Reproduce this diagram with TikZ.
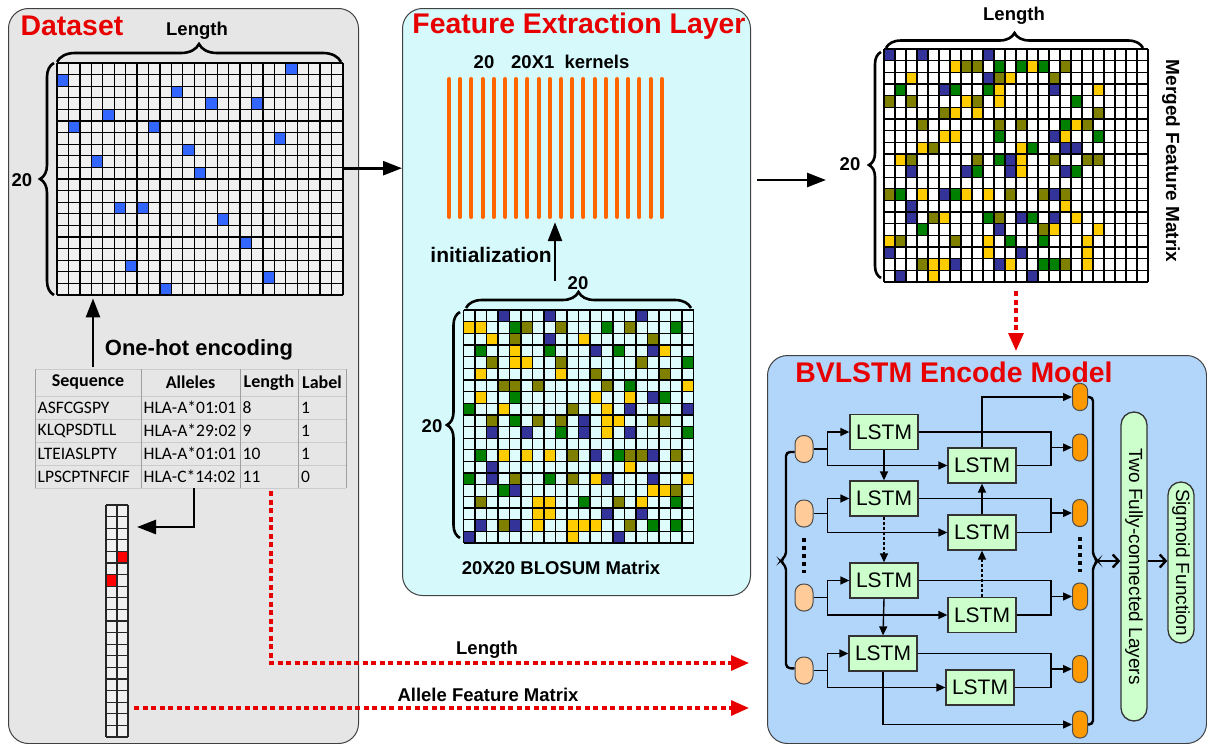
\documentclass[tikz,border=0pt]{standalone}
\usepackage{fontspec}
\setmainfont{Liberation Sans}
\newfontfamily\carl{Carlito}
\usetikzlibrary{arrows.meta,decorations.pathreplacing,calc}
\newcommand\fsz[1]{\fontsize{#1}{#1}\selectfont}
\definecolor{dsgray}{RGB}{230,230,230}
\definecolor{cellgray}{RGB}{240,240,240}
\definecolor{fecyan}{RGB}{214,250,252}
\definecolor{cellcyan}{RGB}{222,252,252}
\definecolor{bvblue}{RGB}{178,213,250}
\definecolor{dblue}{RGB}{51,102,255}
\definecolor{cY}{RGB}{255,204,0}
\definecolor{cO}{RGB}{128,128,0}
\definecolor{cG}{RGB}{0,128,0}
\definecolor{cB}{RGB}{51,51,153}
\definecolor{tred}{RGB}{232,0,0}
\definecolor{korange}{RGB}{255,102,0}
\definecolor{outor}{RGB}{255,153,0}
\definecolor{inor}{RGB}{255,204,153}
\definecolor{lgreen}{RGB}{204,255,204}
\newcommand\gridlines[6]{%
  \foreach \i in {0,...,#3}{\draw[gline] ({#1+\i*#5},#2) -- ({#1+\i*#5},{#2+#4*#6});}
  \foreach \j in {0,...,#4}{\draw[gline] ({#1},{#2+\j*#6}) -- ({#1+#3*#5},{#2+\j*#6});}
}
\newcommand\cellsrc[5]{%
  \foreach \r/\lst in {#5}{\foreach \c/\k in \lst{\fill[\k] ({#1+\c*#3},{#2+\r*#4}) rectangle ++(#3,#4);}}
}
\begin{document}
\begin{tikzpicture}[x=1pt,y=-1pt,
  gline/.style={line width=1.3pt, black},
  panel/.style={draw=black!75, line width=1pt, rounded corners=20pt, inner sep=0pt, anchor=north west},
  title/.style={text=tred, font=\bfseries\fsz{28.4}, inner sep=0pt},
  lbl/.style={font=\bfseries\fsz{18.5}, inner sep=0pt},
  bigarr/.style={line width=2.6pt, -{Triangle[length=19pt,width=14pt]}},
  reddash/.style={tred, line width=3.2pt, dash pattern=on 5pt off 3.5pt, -{Triangle[length=18pt,width=15pt]}},
  brc/.style={decorate, decoration={brace, amplitude=#1}, line width=2.6pt},
  brc/.default=16pt,
  tcell/.style={font=\carl\fsz{17.5}, anchor=west, inner sep=0pt},
  thead/.style={font=\carl\bfseries\fsz{18}, inner sep=0pt},
  kern/.style={korange, line width=4pt, line cap=round},
  lstm/.style={draw=black!80, fill=lgreen, line width=1.3pt, minimum width=68pt, minimum height=35pt, inner sep=0pt, font=\fsz{21}},
  inp/.style={draw=black!70, fill=inor, line width=1pt, minimum width=18pt, minimum height=27pt, rounded corners=8.5pt, inner sep=0pt},
  outp/.style={draw=black!70, fill=outor, line width=1pt, minimum width=15pt, minimum height=27pt, rounded corners=7pt, inner sep=0pt},
  pill/.style={draw=black!80, fill=lgreen, line width=1.3pt, minimum width=26pt, rounded corners=13pt, inner sep=0pt},
  larr/.style={line width=1.4pt, -{Triangle[length=9pt,width=8pt]}},
  lline/.style={line width=1.4pt},
  thickarr/.style={line width=2.4pt, -{Straight Barb[length=6pt,width=13pt]}},
  bbr/.style={line width=2.4pt, rounded corners=4pt},
]
\useasboundingbox (0,0) rectangle (1207,744);
\fill[white] (0,0) rectangle (1207,744);

% ---------------- panels
\node[panel, fill=dsgray, minimum width=350pt, minimum height=735pt] (dpanel) at (8,8) {};
\node[panel, fill=fecyan, minimum width=348pt, minimum height=587pt] (fpanel) at (402,8) {};
\node[panel, fill=bvblue, minimum width=439pt, minimum height=388pt] (bpanel) at (767,355) {};

\node[title] (dtitle) at (72,26) {Dataset};
\node[title] (ftitle) at (579,26) {Feature Extraction Layer};
\node[title] (btitle) at (954,372) {BVLSTM Encode Model};

% ---------------- dataset one-hot grid
\node[inner sep=0pt, minimum width=286pt, minimum height=232pt, anchor=north west] (dgrid) at (57,63) {};
\fill[cellgray] (57,63) rectangle (343,295);
\foreach \c/\r in {20/0,0/1,10/2,13/3,17/3,4/4,1/5,8/5,19/6,11/7,3/8,12/9,5/12,7/12,14/13,16/15,6/17,18/18,9/19}
  {\fill[dblue] ({57+\c*11.44},{63+\r*11.6}) rectangle ++(11.44,11.6);}
\gridlines{57}{63}{25}{20}{11.44}{11.6}
\draw[brc=18pt] (57,62) -- (341,62);
\node[lbl] (dlen) at (197,31) {Length};
\draw[brc=14pt] (54,295) -- (54,63);
\node[lbl] (d20) at (22,180) {20};

% ---------------- table
\foreach \yy in {369,396,419,442,465,488} {\draw[gray!40, line width=0.8pt] (35,\yy) -- (346,\yy);}
\foreach \xx in {35,141,240,298,346} {\draw[gray!75, line width=1pt] (\xx,369) -- (\xx,488);}
\node[thead] (h1) at (88,382.5) {Sequence};
\node[thead] (h2) at (190.5,382.5) {Alleles};
\node[thead] (h3) at (269,382.5) {Length};
\node[thead] (h4) at (322,382.5) {Label};
\foreach \s/\a/\l/\b [count=\k] in {ASFCGSPY/HLA-A*01:01/8/1, KLQPSDTLL/HLA-A*29:02/9/1, LTEIASLPTY/HLA-A*01:01/10/1, LPSCPTNFCIF/HLA-C*14:02/11/0} {
  \pgfmathsetmacro\yy{384.5+23*\k}
  \node[tcell] (ts\k) at (37.5,\yy) {\s};
  \node[tcell] (ta\k) at (143.5,\yy) {\a};
  \node[tcell] (tl\k) at (242.5,\yy) {\l};
  \node[tcell] (tb\k) at (301,\yy) {\b};
}
\coordinate (oa) at (93,367);
\draw[bigarr] (oa) -- ($(oa |- dgrid.south)+(0,3)$);
\node[lbl, font=\bfseries\fsz{22}] (onehot) at (199,350) {One-hot encoding};

% ---------------- allele column vector
\node[inner sep=0pt, minimum width=22pt, minimum height=232pt, anchor=north west] (colv) at (106,505) {};
\fill[cellgray] (106,505) rectangle (128,737);
\fill[red] (117,{505+4*11.6}) rectangle ++(11,11.6);
\fill[red] (106,{505+6*11.6}) rectangle ++(11,11.6);
\begin{scope}[gline/.style={line width=1.1pt, black!85}]
\gridlines{106}{505}{2}{20}{11}{11.6}
\end{scope}
\coordinate (ba) at (194,488);
\coordinate (bb) at (137,527);
\draw[bigarr] (ba) |- (bb);

% ---------------- red dashed connectors
\coordinate (lenS) at (271,491);
\coordinate (lenE) at (749,663);
\draw[reddash] (lenS) |- (lenE);
\node[lbl] (lenlab) at (487,650) {Length};
\coordinate (alS) at (134,708);
\coordinate (alE) at (749,708);
\draw[reddash] (alS) -- (alE);
\node[lbl] (allab) at (488,695) {Allele Feature Matrix};

% ---------------- feature extraction: kernels
\node[inner sep=0pt, minimum width=220pt, minimum height=140pt] (kern) at (555.5,148) {};
\foreach \i in {0,...,19} {\draw[kern] ({449+\i*11.2},79) -- ({449+\i*11.2},217);}
\node[lbl] (k20) at (484,62) {20};
\node[lbl, anchor=west] (ktxt) at (511,62) {20X1\hspace{5pt} kernels};
\coordinate (ia) at (555,281);
\draw[bigarr] (ia) -- ($(ia |- kern.south)+(0,4)$);
\node[lbl, font=\bfseries\fsz{21}, anchor=east] (init) at (552,255) {initialization};

% ---------------- BLOSUM grid
\node[inner sep=0pt, minimum width=230pt, minimum height=233pt, anchor=north west] (bgrid) at (463.5,310) {};
\fill[cellcyan] (463.5,310) rectangle (693.5,543);
\cellsrc{463.5}{310}{11.5}{11.65}{0/{3/cB,7/cB,15/cB},
1/{0/cY,1/cY,4/cG,5/cO,8/cO,12/cG,14/cO,18/cG},
2/{2/cY,4/cO,7/cB,10/cY,16/cO},
3/{1/cG,4/cY,7/cG,11/cB,13/cG,16/cB,17/cY},
4/{2/cO,4/cY,5/cY,8/cO,15/cO,19/cG},
5/{1/cY,8/cY,11/cO,17/cO},
6/{3/cO,4/cO,6/cO,12/cO,14/cG,19/cY},
7/{1/cY,4/cG,11/cY,14/cY,16/cB,17/cG},
8/{0/cG,3/cY,9/cO,12/cY,14/cB,19/cB},
9/{2/cO,4/cG,6/cO,8/cO,10/cB,12/cY,13/cY,16/cO,17/cO},
10/{2/cB,5/cB,8/cG,10/cB,12/cY,14/cB,19/cG},
12/{1/cG,3/cY,5/cY,7/cY,9/cO,11/cB,13/cG,14/cO,15/cO,16/cB,18/cO},
13/{2/cB,14/cY},
14/{0/cG,2/cB,4/cO,7/cG,9/cO,11/cY,12/cB,16/cB,19/cY},
15/{3/cG,4/cB,16/cY,17/cY,18/cO},
16/{1/cO,6/cY,7/cY,10/cG,13/cO,15/cY,18/cG},
17/{6/cY,7/cY,12/cB,15/cB},
18/{1/cB,3/cO,4/cB,6/cY,9/cY,10/cY,11/cY,14/cO,16/cG,18/cG},
19/{0/cB,9/cY,13/cB}}
\gridlines{463.5}{310}{20}{20}{11.5}{11.65}
\draw[brc=16pt] (466,308) -- (691,308);
\node[lbl] (b20t) at (578,283) {20};
\draw[brc=13pt] (460,538) -- (460,312);
\node[lbl] (b20l) at (432,426) {20};
\node[lbl] (blabel) at (561,568) {20X20 BLOSUM Matrix};

\coordinate (da) at ($(dgrid.east)+(1,-11)$);
\draw[bigarr] (da) -- (da -| fpanel.west);

% ---------------- merged feature matrix
\node[inner sep=0pt, minimum width=264pt, minimum height=233pt, anchor=north west] (mgrid) at (884,49) {};
\fill[white] (884,49) rectangle (1148,282);
\cellsrc{884}{49}{11}{11.65}{0/{0/cB,3/cB,9/cB},
1/{6/cY,7/cO,8/cO,10/cG,12/cG,13/cY,14/cG,16/cO},
2/{2/cY,9/cB,10/cO,11/cY,15/cO},
3/{1/cG,5/cB,6/cG,9/cG,10/cY,15/cB,19/cY},
4/{0/cO,2/cO,7/cY,8/cO,10/cY,17/cG},
5/{5/cO,6/cY,8/cY,19/cO},
6/{3/cO,10/cO,12/cO,16/cG,17/cY,18/cO},
7/{5/cY,6/cY,10/cG,15/cB,16/cY,19/cG},
8/{3/cY,4/cO,12/cY,13/cG,16/cB,17/cB},
9/{1/cY,2/cO,8/cO,10/cG,11/cB,12/cY,15/cO,18/cO,19/cO},
10/{2/cB,7/cB,8/cG,11/cB,12/cY,16/cB,17/cG},
12/{0/cO,1/cG,3/cY,5/cB,6/cG,7/cY,9/cY,11/cO,14/cO,15/cB,16/cO},
13/{2/cB,16/cY},
14/{2/cB,4/cO,5/cY,9/cG,10/cO,12/cB,13/cG,15/cB,17/cY},
15/{3/cG,10/cB,14/cO,15/cY,19/cY},
16/{0/cY,1/cO,6/cO,9/cY,11/cG,14/cG,18/cY},
17/{0/cB,9/cY,12/cB,18/cY},
18/{3/cO,4/cY,5/cY,6/cB,10/cB,11/cY,14/cG,15/cG,16/cO,18/cY},
19/{1/cB,4/cY,13/cB}}
\gridlines{884}{49}{24}{20}{11}{11.65}
\draw[brc=15pt] (886,48) -- (1143,48);
\node[lbl] (mlen) at (1014,16) {Length};
\draw[brc=12pt] (881,278) -- (881,52);
\node[lbl] (m20) at (850,164) {20};
\node[lbl, font=\bfseries\fsz{19}, rotate=-90] (mlabel) at (1171,161) {Merged Feature Matrix};
\coordinate (ma) at (757,180);
\coordinate (mb) at (826,180);
\draw[bigarr] (ma) -- (mb);
\coordinate (mdS) at (1016,291);
\coordinate (mdE) at (1016,351);
\draw[reddash] (mdS) -- (mdE);

% ---------------- BVLSTM
\node[lstm] (A1) at (884,432) {LSTM};
\node[lstm] (A2) at (884,498.5) {LSTM};
\node[lstm] (A3) at (884,580.5) {LSTM};
\node[lstm] (A4) at (883,653.5) {LSTM};
\node[lstm] (B1) at (982,465.5) {LSTM};
\node[lstm] (B2) at (982,532.5) {LSTM};
\node[lstm] (B3) at (982,615) {LSTM};
\node[lstm] (B4) at (980,687.5) {LSTM};
\node[inp] (I1) at (804,449) {};
\node[inp] (I2) at (804,513.5) {};
\node[inp] (I3) at (804,597.5) {};
\node[inp] (I4) at (804,670.5) {};
\node[outp] (O1) at (1080,397) {};
\node[outp] (O2) at (1080,447.5) {};
\node[outp] (O3) at (1080,513) {};
\node[outp] (O4) at (1080,596.5) {};
\node[outp] (O5) at (1080,669) {};
\node[outp] (O6) at (1080,724.5) {};

\foreach \i/\a/\b in {1/A1/B1, 2/A2/B2, 3/A3/B3, 4/A4/B4} {
  \draw[larr] (I\i.east) -- ++(14,0) |- (\a.west);
  \draw[larr] ($(I\i.east)+(14,0)$) |- (\b.west);
}
\foreach \a/\b/\o in {A1/B1/O2, A2/B2/O3, A3/B3/O4, A4/B4/O5} {
  \draw[lline] (\a.east) -| ($(\o.west)+(-21,0)$);
  \draw[lline] (\b.east) -| ($(\o.west)+(-21,0)$);
  \draw[larr] ($(\o.west)+(-21,0)$) -- (\o.west);
}
\draw[larr] (B1.north) |- (O1.west);
\draw[larr] (A4.south) |- (O6.west);
\draw[larr] (A1.south) -- (A2.north);
\draw[larr, dash pattern=on 3pt off 2pt] (A2.south) -- (A3.north);
\draw[larr] (A3.south) -- (A4.north);
\draw[larr] (B2.north) -- (B1.south);
\draw[larr, dash pattern=on 3pt off 2pt] (B3.north) -- (B2.south);

\draw[line width=3.5pt, dash pattern=on 4pt off 4pt] ($(I2.south)+(0,10)$) -- ($(I3.north)+(0,-11)$);
\draw[line width=3.5pt, dash pattern=on 4pt off 4pt] ($(O3.south)+(0,10)$) -- ($(O4.north)+(0,-11)$);

\draw[bbr] ($(I1.west)+(0,3)$) -- (786,452) -- (786,556) -- (780,561) -- (786,566) -- (786,668) -- ($(I4.west)+(0,-2)$);
\draw[bbr] (O1.east) -- (1093,397) -- (1093,556) -- (1098,561) -- (1093,566) -- (1093,724.5) -- (O6.east);

\node[pill, minimum height=309pt] (fc) at (1134,566.5) {};
\node[rotate=-90, font=\fsz{19}, inner sep=0pt] (fct) at (fc.center) {Two Fully-connected Layers};
\node[pill, minimum height=161pt] (sig) at (1181,562.5) {};
\node[rotate=-90, font=\fsz{19}, inner sep=0pt] (sigt) at (sig.center) {Sigmoid Function};
\coordinate (rbt) at (1098,561);
\draw[thickarr] (rbt) -- (fc.west |- rbt);
\draw[thickarr] (fc.east |- rbt) -- (sig.west |- rbt);
\end{tikzpicture}
\end{document}
